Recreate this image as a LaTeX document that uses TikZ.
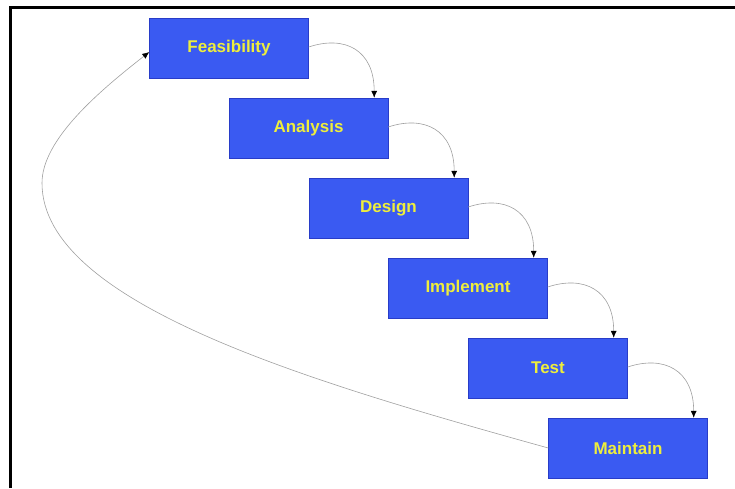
\documentclass[tikz,border=0pt]{standalone}
\usepackage{fontspec}
\setmainfont{Liberation Sans}
\usetikzlibrary{arrows.meta}
\definecolor{boxblue}{RGB}{58,90,242}
\definecolor{boxedge}{RGB}{40,60,200}
\definecolor{txtyellow}{RGB}{238,238,60}
\definecolor{linegray}{RGB}{160,160,160}
\tikzset{
  stage/.style={rectangle, fill=boxblue, draw=boxedge, line width=0.4pt,
    minimum width=159pt, minimum height=60pt, inner sep=0pt,
    font=\fontsize{17}{20}\selectfont\bfseries, text=txtyellow},
  flow/.style={draw=linegray, line width=0.6pt,
    -{Latex[length=7pt,width=6pt,color=black]}},
  frame/.style={draw=black, line width=3pt}
}
\begin{document}
\begin{tikzpicture}[x=1pt,y=-1pt]
\useasboundingbox (0,0) rectangle (735,488);
\coordinate (fb) at (10,488);
\coordinate (fc) at (10,7.5);
\coordinate (fr) at (735,7.5);
\draw[frame] (fb) -- (fc) -- (fr);

\node[stage] (feas) at (229,48) {Feasibility};
\node[stage] (anal) at (308.5,128) {Analysis};
\node[stage] (des)  at (388.5,208) {Design};
\node[stage] (impl) at (468,288) {Implement};
\node[stage] (test) at (548,368) {Test};
\node[stage] (main) at (628,448) {Maintain};

\coordinate (ta) at ([xshift=-14pt]anal.north east);
\coordinate (td) at ([xshift=-14pt]des.north east);
\coordinate (ti) at ([xshift=-14pt]impl.north east);
\coordinate (tt) at ([xshift=-14pt]test.north east);
\coordinate (tm) at ([xshift=-14pt]main.north east);

\draw[flow] ([yshift=1pt]feas.east) .. controls +(36,-12) and +(0,-48) .. (ta);
\draw[flow] ([yshift=1pt]anal.east) .. controls +(36,-12) and +(0,-48) .. (td);
\draw[flow] ([yshift=1pt]des.east)  .. controls +(36,-12) and +(0,-48) .. (ti);
\draw[flow] ([yshift=1pt]impl.east) .. controls +(36,-12) and +(0,-48) .. (tt);
\draw[flow] ([yshift=1pt]test.east) .. controls +(36,-12) and +(0,-48) .. (tm);

\coordinate (lp) at (42,183);
\coordinate (fin) at ([yshift=-4pt]feas.west);
\draw[flow] (main.west) .. controls (307,381) and (42,303) .. (lp)
  .. controls (42,140) and (98,92) .. (fin);
\end{tikzpicture}
\end{document}
